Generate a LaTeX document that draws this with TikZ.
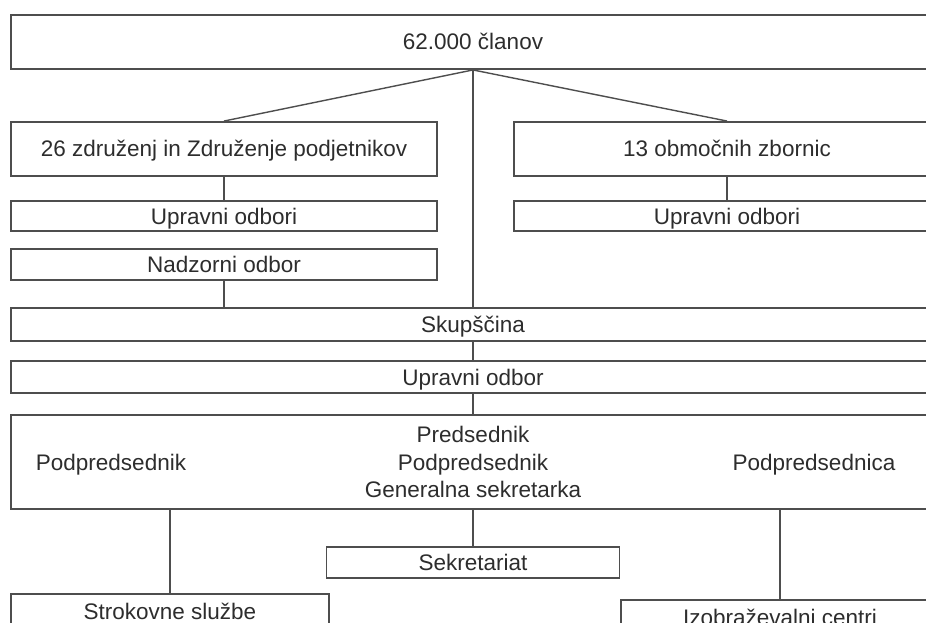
\documentclass[tikz,border=0pt]{standalone}
\usepackage{fontspec}
\setmainfont{Liberation Sans}
\definecolor{edge}{RGB}{78,78,78}
\definecolor{ink}{RGB}{45,45,45}
\begin{document}
\begin{tikzpicture}[x=1pt,y=-1pt,
  orgbox/.style={draw=edge, line width=1.9pt, fill=white, rectangle,
    inner sep=0pt, text=ink, text height=16pt, text depth=0pt,
    font=\fontsize{22.5}{27.5}\selectfont},
  wide/.style={orgbox, minimum width=924pt},
  half/.style={orgbox, minimum width=426pt},
  plain/.style={text=ink, inner sep=0pt, align=center,
    font=\fontsize{22.5}{27.5}\selectfont},
  link/.style={draw=edge, line width=1.4pt}]
\useasboundingbox (0,0) rectangle (926,623);
\clip (0,0) rectangle (926,623);
\fill[white] (0,0) rectangle (926,623);

% membership and the two member groups
\node[wide, minimum height=54pt] (members) at (473,42) {62.000 članov};
\node[half, minimum height=54pt] (assoc) at (224,149) {26 združenj in Združenje podjetnikov};
\node[half, minimum height=54pt] (chambers) at (727,149) {13 območnih zbornic};

% boards of the groups
\node[half, minimum height=30pt] (boardL) at (224,216) {Upravni odbori};
\node[half, minimum height=30pt] (boardR) at (727,216) {Upravni odbori};
\node[half, minimum height=31pt] (supervisory) at (224,264.5) {Nadzorni odbor};

% central bodies
\node[wide, minimum height=33pt] (assembly) at (473,324.5) {Skupščina};
\node[wide, minimum height=32pt] (board) at (473,377) {Upravni odbor};
\node[wide, minimum height=94pt] (lead) at (473,462) {};
\node[plain] (president) at (473,462) {Predsednik\\Podpredsednik\\Generalna sekretarka};
\node[plain, text height=16pt, text depth=0pt] (vpLeft) at (111,462) {Podpredsednik};
\node[plain, text height=16pt, text depth=0pt] (vpRight) at (814,462) {Podpredsednica};

% services
\node[orgbox, minimum width=293pt, minimum height=31pt] (secretariat) at (473,562.5) {Sekretariat};
\node[orgbox, minimum width=318pt, minimum height=34pt] (services) at (170,611) {Strokovne službe};
\node[orgbox, minimum width=318pt, minimum height=34pt] (training) at (780,617) {Izobraževalni centri};

% connectors
\draw[link] (members.south) -- (assoc.north);
\draw[link] (members.south) -- (chambers.north);
\draw[link] (members.south) -- (assembly.north);
\draw[link] (assoc.south) -- (boardL.north);
\draw[link] (chambers.south) -- (boardR.north);
\draw[link] (supervisory.south) -- (supervisory.south |- assembly.north);
\draw[link] (assembly.south) -- (board.north);
\draw[link] (board.south) -- (lead.north);
\draw[link] (lead.south) -- (secretariat.north);
\draw[link] (services.north |- lead.south) -- (services.north);
\draw[link] (training.north |- lead.south) -- (training.north);
\end{tikzpicture}
\end{document}
